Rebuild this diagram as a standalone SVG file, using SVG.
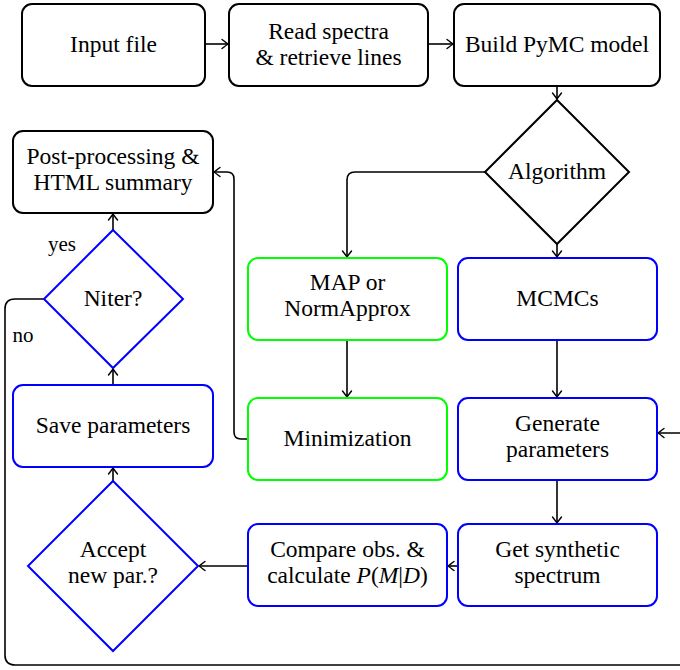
<svg xmlns="http://www.w3.org/2000/svg" width="680" height="670" viewBox="0 0 680 670">
<defs>
<marker id="arr" viewBox="-7 -6 9 12" markerWidth="9" markerHeight="12" refX="0" refY="0" orient="auto" markerUnits="userSpaceOnUse">
<path d="M-6,-4.5 Q-1.5,-1 0,0 Q-1.5,1 -6,4.5" fill="none" stroke="#000" stroke-width="1.4" stroke-linecap="round"/>
</marker>
</defs>
<style>
text{font-family:'Liberation Serif',serif;font-size:23.5px;fill:#000;text-anchor:middle}
.k{fill:#fff;stroke:#000;stroke-width:2}
.g{fill:#fff;stroke:#00ff00;stroke-width:2}
.b{fill:#fff;stroke:#0000ff;stroke-width:2}
.c{fill:none;stroke:#000;stroke-width:1.6;marker-end:url(#arr)}
.lbl{font-size:21px}
</style>
<g id="connectors">
<path class="c" d="M205,44 H228"/>
<path class="c" d="M428,44 H453"/>
<path class="c" d="M557,86 V99"/>
<path class="c" d="M485,172 H355 Q347,172 347,180 V257"/>
<path class="c" d="M557,244 V257"/>
<path class="c" d="M347,340 V397"/>
<path class="c" d="M248,439 H241 Q234,439 234,432 V179 Q234,172 227,172 H214"/>
<path class="c" d="M557,340 V397"/>
<path class="c" d="M557,480 V523"/>
<path class="c" d="M458,566 H448"/>
<path class="c" d="M248,566 H199"/>
<path class="c" d="M113,481 V468"/>
<path class="c" d="M113,385 V369"/>
<path class="c" d="M113,230 V214"/>
<path class="c" d="M44,299 H15 Q5,299 5,309 V655 Q5,665 15,665 H690 V433 H658"/>
<text class="lbl" x="62" y="251">yes</text>
<text class="lbl" x="23" y="342">no</text>
</g>
<g id="input"><rect class="k" x="22" y="4" width="183" height="82" rx="10"/><text x="113.5" y="52">Input file</text></g>
<g id="read"><rect class="k" x="229" y="4" width="199" height="82" rx="10"/><text x="328.5" y="39">Read spectra</text><text x="328.5" y="65">&amp; retrieve lines</text></g>
<g id="build"><rect class="k" x="454" y="4" width="206" height="82" rx="10"/><text x="557" y="52">Build PyMC model</text></g>
<g id="algorithm"><polygon class="k" points="557,100 629,172 557,244 485,172"/><text x="557" y="179">Algorithm</text></g>
<g id="post"><rect class="k" x="13" y="131" width="200" height="82" rx="10"/><text x="113" y="164">Post-processing &amp;</text><text x="113" y="190">HTML summary</text></g>
<g id="map"><rect class="g" x="248" y="258" width="199" height="82" rx="10"/><text x="347.5" y="290">MAP or</text><text x="347.5" y="316">NormApprox</text></g>
<g id="mcmc"><rect class="b" x="458" y="258" width="199" height="82" rx="10"/><text x="557.5" y="306">MCMCs</text></g>
<g id="niter"><polygon class="b" points="113,230 183,299 113,368 44,299"/><text x="113" y="306">Niter?</text></g>
<g id="minim"><rect class="g" x="248" y="398" width="199" height="82" rx="10"/><text x="347.5" y="446">Minimization</text></g>
<g id="gen"><rect class="b" x="458" y="398" width="199" height="82" rx="10"/><text x="557.5" y="431">Generate</text><text x="557.5" y="457">parameters</text></g>
<g id="save"><rect class="b" x="13" y="385" width="200" height="82" rx="10"/><text x="113" y="433">Save parameters</text></g>
<g id="accept"><polygon class="b" points="113,481 198,566 113,651 28,566"/><text x="113" y="557">Accept</text><text x="113" y="583">new par.?</text></g>
<g id="compare"><rect class="b" x="248" y="524" width="199" height="82" rx="10"/><text x="347.5" y="557">Compare obs. &amp;</text><text x="347.5" y="583">calculate <tspan font-style="italic">P</tspan>(<tspan font-style="italic">M</tspan>|<tspan font-style="italic">D</tspan>)</text></g>
<g id="synth"><rect class="b" x="458" y="524" width="199" height="82" rx="10"/><text x="557.5" y="557">Get synthetic</text><text x="557.5" y="583">spectrum</text></g>
</svg>
